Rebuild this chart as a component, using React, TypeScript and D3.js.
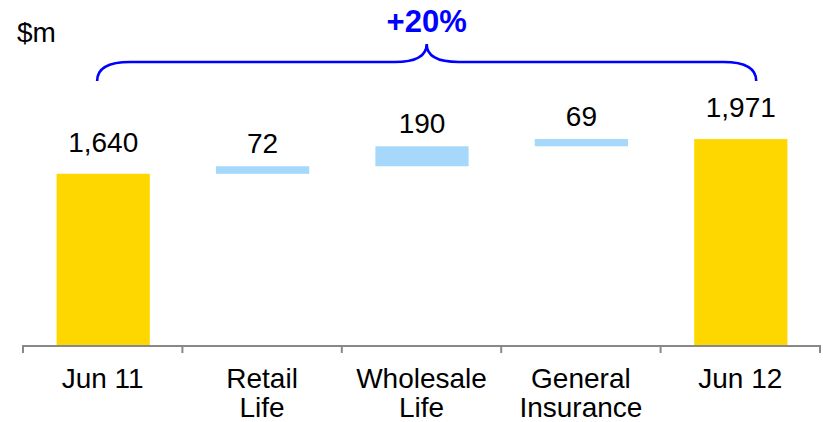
import React from "react";
import * as d3 from "d3";

const categories = ["Jun 11", "Retail Life", "Wholesale Life", "General Insurance", "Jun 12"];
const categoryLines = [["Jun 11"], ["Retail", "Life"], ["Wholesale", "Life"], ["General", "Insurance"], ["Jun 12"]];
const values = [1640, 72, 190, 69, 1971];
const kinds = ["total", "delta", "delta", "delta", "total"];
const valueLabels = ["1,640", "72", "190", "69", "1,971"];
const unitLabel = "$m";
const growthLabel = "+20%";

const W = 823;
const H = 422;
const FONT = "'Liberation Sans', Arial, Helvetica, sans-serif";
const GOLD = "#FFD700";
const BLUE = "#A5D8FA";

export default function App() {
  const x = d3.scaleBand<string>().domain(categories).range([23, 820]).padding(0);
  const y = d3.scaleLinear().domain([0, 2000]).range([346, 136]);
  const bw = x.bandwidth() * 0.585;

  let running = 0;
  const bars = values.map((v, i) => {
    let lo: number, hi: number;
    if (kinds[i] === "total") {
      lo = 0;
      hi = v;
      running = v;
    } else {
      lo = running;
      hi = running + v;
      running = hi;
    }
    return { cat: categories[i], lo, hi, kind: kinds[i], label: valueLabels[i] };
  });

  const ticks = [...categories.map((c) => x(c)!), 820];

  const left = x(categories[0])! + x.bandwidth() * 0.465;
  const right = x(categories[4])! + x.bandwidth() * 0.6;
  const mid = (left + right) / 2;
  const yb = 81, yh = 62, yt = 44;
  const brace = `M${left},${yb} Q${left},${yh} ${left + 33},${yh} L${mid - 32},${yh} Q${mid},${yh} ${mid},${yt} Q${mid},${yh} ${mid + 32},${yh} L${right - 33},${yh} Q${right},${yh} ${right},${yb}`;

  return (
    <svg width={W} height={H} style={{ position: "absolute", left: 0, top: 0 }} fontFamily={FONT}>
      <rect width={W} height={H} fill="#fff" />
      <text x={17} y={42} fontSize={28} fill="#000">{unitLabel}</text>
      {bars.map((b, i) => {
        const cx = x(b.cat)! + x.bandwidth() / 2 + 0.5;
        const top = y(b.hi);
        const bottom = y(b.lo);
        const off = b.kind === "total" ? 22 : 13;
        return (
          <g key={b.cat}>
            <rect x={cx - bw / 2} y={top} width={bw} height={Math.max(1, bottom - top)} fill={b.kind === "total" ? GOLD : BLUE} />
            <text x={cx} y={top - off} fontSize={28} textAnchor="middle" fill="#000">{b.label}</text>
          </g>
        );
      })}
      <line x1={23} x2={820} y1={346} y2={346} stroke="#888" strokeWidth={2} />
      {ticks.map((t, i) => (
        <line key={i} x1={t} x2={t} y1={345} y2={353} stroke="#888" strokeWidth={2} />
      ))}
      {categoryLines.map((lines, i) => (
        <text key={i} x={x(categories[i])! + x.bandwidth() / 2} y={388} fontSize={28} textAnchor="middle" fill="#000">
          {lines.map((l, j) => (
            <tspan key={j} x={x(categories[i])! + x.bandwidth() / 2} dy={j === 0 ? 0 : 29}>{l}</tspan>
          ))}
        </text>
      ))}
      <path d={brace} fill="none" stroke="#0000FF" strokeWidth={2.6} />
      <text x={mid} y={32} fontSize={31} fontWeight="bold" textAnchor="middle" fill="#0000FF">{growthLabel}</text>
    </svg>
  );
}
